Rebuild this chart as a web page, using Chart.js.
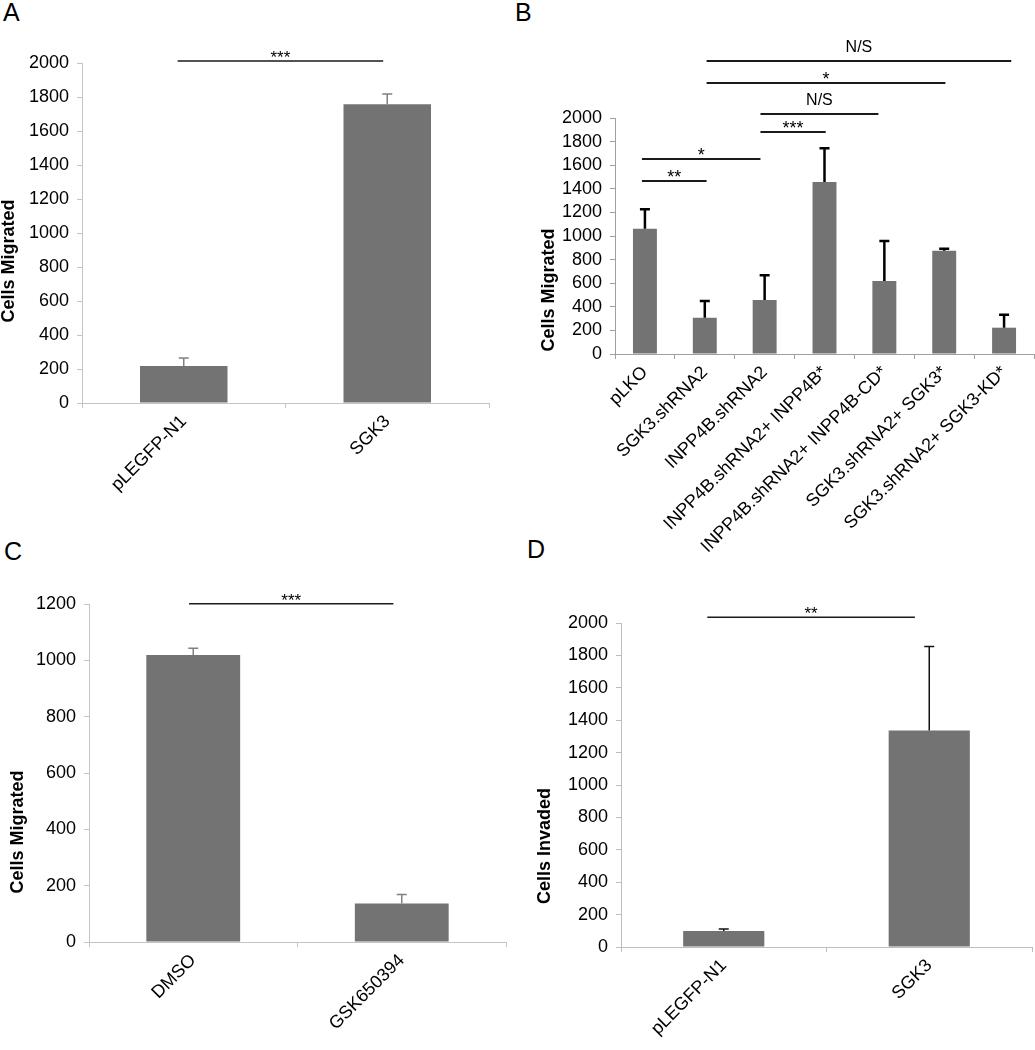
<html lang="en">
<head>
    <meta charset="UTF-8">
    <title>Cell migration and invasion</title>
    <script src="https://cdn.jsdelivr.net/npm/chart.js"></script>
    <style>
        body { margin: 0; background: #fff; }
        #fig { position: relative; width: 1035px; height: 1050px; overflow: hidden; }
        #fig canvas { position: absolute; }
        .letter { position: absolute; font: 25px/25px 'Liberation Sans', Arial, sans-serif; color: #000; }
    </style>
</head>
<body>
<div id="fig">
    <div class="letter" style="left:3px; top:0px;">A</div>
    <div class="letter" style="left:515px; top:0px;">B</div>
    <div class="letter" style="left:4px; top:539px;">C</div>
    <div class="letter" style="left:527px; top:537px;">D</div>
    <canvas id="chartA" width="500" height="520" style="left:0; top:0;"></canvas>
    <canvas id="chartB" width="495" height="600" style="left:540px; top:0;"></canvas>
    <canvas id="chartC" width="515" height="530" style="left:0; top:520px;"></canvas>
    <canvas id="chartD" width="515" height="530" style="left:520px; top:520px;"></canvas>
</div>

<script>
    // panel A - migration, overexpression
    const labelsA = ['pLEGFP-N1', 'SGK3'];
    const valuesA = [218, 1758];
    const errorsA = [47, 60];
    const sigFromA = [-0.03], sigToA = [0.98], sigLevelA = [2012], sigTextA = ['***'];

    // panel B - knockdown / rescue
    const labelsB = ['pLKO', 'SGK3.shRNA2', 'INPP4B.shRNA2', 'INPP4B.shRNA2+ INPP4B*',
        'INPP4B.shRNA2+ INPP4B-CD*', 'SGK3.shRNA2+ SGK3*', 'SGK3.shRNA2+ SGK3-KD*'];
    const valuesB = [1062, 308, 458, 1458, 619, 876, 223];
    const errorsB = [164, 141, 209, 285, 339, 16, 110];
    const sigFromB = [1.03, 1.03, 1.93, 1.93, -0.05, -0.05];
    const sigToB = [6.12, 5.02, 3.9, 3.02, 1.93, 1.03];
    const sigLevelB = [2483, 2297, 2034, 1881, 1653, 1466];
    const sigTextB = ['N/S', '*', 'N/S', '***', '*', '**'];

    // panel C - inhibitor
    const labelsC = ['DMSO', 'GSK650394'];
    const valuesC = [1019, 137];
    const errorsC = [24, 32];
    const sigFromC = [-0.02], sigToC = [0.96], sigLevelC = [1201], sigTextC = ['***'];

    // panel D - invasion
    const labelsD = ['pLEGFP-N1', 'SGK3'];
    const valuesD = [99, 1336];
    const errorsD = [12, 519];
    const sigFromD = [-0.08], sigToD = [0.93], sigLevelD = [2035], sigTextD = ['**'];

    const FONT = "'Liberation Sans', Arial, Helvetica, sans-serif";
    Chart.defaults.font.family = FONT;
    Chart.defaults.color = '#000';

    function makePanel(id, p) {
        const extras = {
            id: 'extras',
            afterDatasetsDraw(chart) {
                const ctx = chart.ctx, xs = chart.scales.x, ys = chart.scales.y;
                const bars = chart.getDatasetMeta(0).data;
                ctx.save();
                // error bars (upper only)
                ctx.strokeStyle = p.errColor;
                ctx.lineWidth = p.errWidth;
                bars.forEach((bar, i) => {
                    const top = ys.getPixelForValue(p.values[i] + p.errors[i]);
                    ctx.beginPath();
                    ctx.moveTo(bar.x, bar.y);
                    ctx.lineTo(bar.x, top);
                    ctx.moveTo(bar.x - 5, top);
                    ctx.lineTo(bar.x + 5, top);
                    ctx.stroke();
                });
                // significance lines
                ctx.strokeStyle = '#1a1a1a';
                ctx.lineWidth = p.sigWidth;
                ctx.fillStyle = '#000';
                ctx.textAlign = 'center';
                ctx.textBaseline = 'alphabetic';
                p.sigText.forEach((t, i) => {
                    const x1 = xs.getPixelForValue(p.sigFrom[i]);
                    const x2 = xs.getPixelForValue(p.sigTo[i]);
                    const ly = ys.getPixelForValue(p.sigLevel[i]);
                    ctx.beginPath();
                    ctx.moveTo(x1, ly);
                    ctx.lineTo(x2, ly);
                    ctx.stroke();
                    const star = t.indexOf('*') >= 0;
                    ctx.font = (star ? p.starSize : 16) + 'px ' + FONT;
                    ctx.fillText(t, (x1 + x2) / 2, star ? ly + 2 : ly - 9);
                });
                // y axis title
                ctx.font = 'bold 18px ' + FONT;
                ctx.translate(p.titleX, p.titleY);
                ctx.rotate(-Math.PI / 2);
                ctx.textBaseline = 'middle';
                ctx.fillText(p.yTitle, 0, 0);
                ctx.restore();
            }
        };

        return new Chart(document.getElementById(id), {
            type: 'bar',
            data: {
                labels: p.labels,
                datasets: [{
                    data: p.values,
                    backgroundColor: '#737373',
                    categoryPercentage: 1,
                    barPercentage: p.barPct
                }]
            },
            options: {
                responsive: false,
                animation: false,
                layout: { padding: p.pad },
                plugins: { legend: { display: false }, tooltip: { enabled: false } },
                scales: {
                    x: {
                        grid: { drawOnChartArea: false, tickLength: 5, color: p.axisColor, offset: true },
                        border: { color: p.axisColor },
                        ticks: { minRotation: 45, maxRotation: 45, autoSkip: false, font: { size: 18 }, padding: 3, color: '#000' },
                        afterFit(s) { s.height = p.xH; s.paddingLeft = 0; s.paddingRight = 0; }
                    },
                    y: {
                        min: 0,
                        max: p.max,
                        grid: { drawOnChartArea: false, tickLength: 5, color: p.axisColor },
                        border: { color: p.axisColor },
                        ticks: {
                            stepSize: 200, autoSkip: false, font: { size: 18 }, padding: 8, color: '#000',
                            callback: v => String(v)
                        },
                        afterFit(s) { s.width = p.yW; s.paddingTop = 0; s.paddingBottom = 0; }
                    }
                }
            },
            plugins: [extras]
        });
    }

    makePanel('chartA', {
        labels: labelsA, values: valuesA, errors: errorsA,
        sigFrom: sigFromA, sigTo: sigToA, sigLevel: sigLevelA, sigText: sigTextA,
        max: 2000, barPct: 0.43, pad: { top: 63, right: 11, bottom: 0, left: 0 },
        yW: 82, xH: 117, axisColor: '#c4c4c4', errColor: '#808080', errWidth: 1.5,
        sigWidth: 1.5, starSize: 17, yTitle: 'Cells Migrated', titleX: 9, titleY: 261
    });

    makePanel('chartB', {
        labels: labelsB, values: valuesB, errors: errorsB,
        sigFrom: sigFromB, sigTo: sigToB, sigLevel: sigLevelB, sigText: sigTextB,
        max: 2000, barPct: 0.4, pad: { top: 118, right: 1, bottom: 0, left: 0 },
        yW: 75, xH: 246, axisColor: '#a0a0a0', errColor: '#000', errWidth: 2.5,
        sigWidth: 2, starSize: 18, yTitle: 'Cells Migrated', titleX: 9, titleY: 290
    });

    makePanel('chartC', {
        labels: labelsC, values: valuesC, errors: errorsC,
        sigFrom: sigFromC, sigTo: sigToC, sigLevel: sigLevelC, sigText: sigTextC,
        max: 1200, barPct: 0.45, pad: { top: 84, right: 9, bottom: 0, left: 0 },
        yW: 89, xH: 108, axisColor: '#c4c4c4', errColor: '#808080', errWidth: 1.5,
        sigWidth: 1.5, starSize: 17, yTitle: 'Cells Migrated', titleX: 18, titleY: 312
    });

    makePanel('chartD', {
        labels: labelsD, values: valuesD, errors: errorsD,
        sigFrom: sigFromD, sigTo: sigToD, sigLevel: sigLevelD, sigText: sigTextD,
        max: 2000, barPct: 0.395, pad: { top: 103, right: 3, bottom: 0, left: 0 },
        yW: 101, xH: 103, axisColor: '#bdbdbd', errColor: '#111', errWidth: 1.5,
        sigWidth: 1.5, starSize: 17, yTitle: 'Cells Invaded', titleX: 25, titleY: 326
    });
</script>
</body>
</html>
